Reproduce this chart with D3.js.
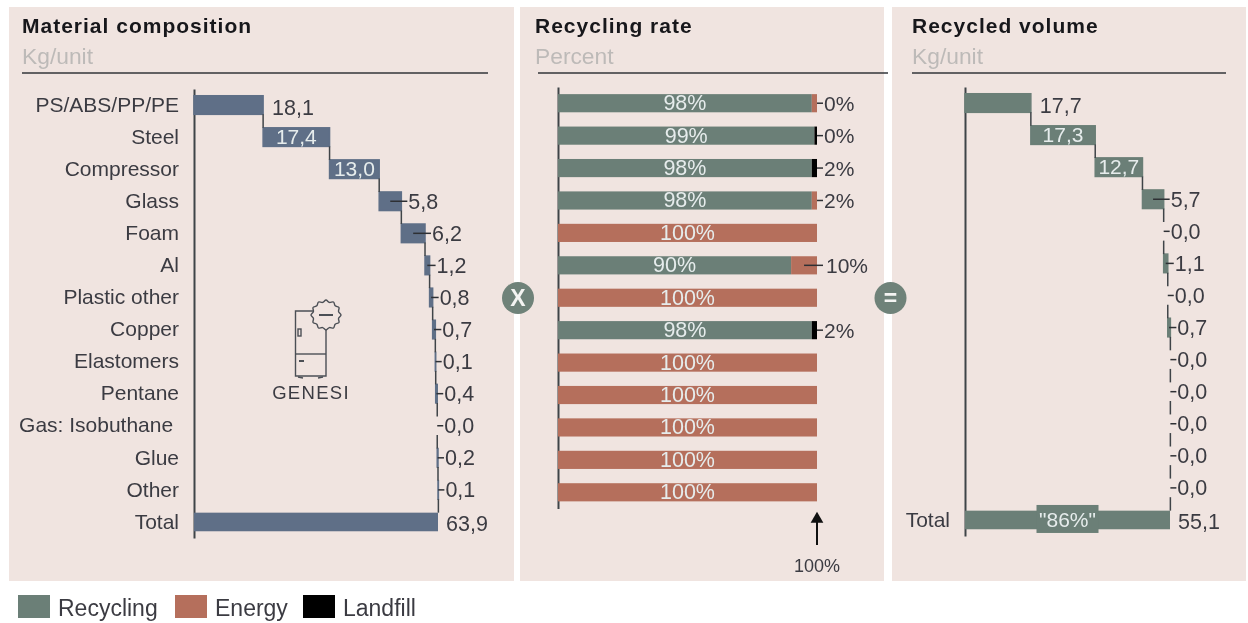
<!DOCTYPE html>
<html>
<head>
<meta charset="utf-8">
<script src="https://cdn.jsdelivr.net/npm/d3@7"></script>
<style>
html, body { margin: 0; padding: 0; background: #fff; }
svg { display: block; filter: blur(0.45px); }
text { font-family: "Liberation Sans", Arial, sans-serif; fill: #3b3b42; }
.domain { stroke: #3f4448; stroke-width: 2px; }
</style>
</head>
<body>
<svg id="chart" width="1248" height="623"></svg>
<script>
// datos
var materials = ["PS/ABS/PP/PE", "Steel", "Compressor", "Glass", "Foam", "Al", "Plastic other", "Copper", "Elastomers", "Pentane", "Gas: Isobuthane\u00a0", "Glue", "Other"];
var compositionValues = [18.1, 17.4, 13.0, 5.8, 6.2, 1.2, 0.8, 0.7, 0.1, 0.4, 0.0, 0.2, 0.1];
var compositionTotal = 63.9;
var recyclingPct = [98, 99, 98, 98, 0, 90, 0, 98, 0, 0, 0, 0, 0];
var energyPct = [2, 0, 0, 2, 100, 10, 100, 0, 100, 100, 100, 100, 100];
var landfillPct = [0, 1, 2, 0, 0, 0, 0, 2, 0, 0, 0, 0, 0];
var sideLabels = ["0%", "0%", "2%", "2%", "", "10%", "", "2%", "", "", "", "", ""];
var recycledValues = [17.7, 17.3, 12.7, 5.7, 0.0, 1.1, 0.0, 0.7, 0.0, 0.0, 0.0, 0.0, 0.0];
var recycledTotal = 55.1;
var recycledShare = "\"86%\"";
var legendNames = ["Recycling", "Energy", "Landfill"];

var colors = { recycling: "#6b7f77", energy: "#b56f5c", landfill: "#000000", material: "#5f6f87", panel: "#f0e4e0" };
var coma = d3.formatLocale({ decimal: ",", thousands: ".", grouping: [3], currency: ["", ""] }).format(".1f");

var svg = d3.select("#chart");

// fondos y cabeceras
var panels = [
	{ x: 9, w: 505, title: "Material composition", sub: "Kg/unit", tx: 22, rx1: 22, rx2: 488 },
	{ x: 520, w: 364, title: "Recycling rate", sub: "Percent", tx: 535, rx1: 538, rx2: 888 },
	{ x: 892, w: 354, title: "Recycled volume", sub: "Kg/unit", tx: 912, rx1: 912, rx2: 1226 }
];

panels.forEach(function(p) {
	svg.append("rect").attr("x", p.x).attr("y", 7).attr("width", p.w).attr("height", 574).attr("fill", colors.panel);
});
panels.forEach(function(p) {
	svg.append("text").attr("x", p.tx).attr("y", 33).attr("font-size", 21).attr("font-weight", "bold")
		.attr("letter-spacing", 1).style("fill", "#17171b").text(p.title);
	svg.append("text").attr("x", p.tx).attr("y", 64).attr("font-size", 22.8).style("fill", "#bdbab8").text(p.sub);
	svg.append("line").attr("x1", p.rx1).attr("x2", p.rx2).attr("y1", 73).attr("y2", 73).attr("stroke", "#33363a").attr("stroke-width", 1.6);
});

function waterfall(cfg) {
	var names = d3.range(cfg.values.length).concat(["total"]);
	var y = d3.scaleBand().domain(names).range(cfg.yRange).paddingInner(0.42).paddingOuter(0.21);
	var x = d3.scaleLinear().domain([0, cfg.total]).range(cfg.xRange);
	var g = svg.append("g");
	var axis = d3.axisLeft(y).tickSize(0).tickPadding(15).tickFormat(function(d) {
		if (d == "total") return "Total";
		return cfg.names ? cfg.names[d] : "";
	});

	g.append("g").attr("transform", "translate(" + cfg.xRange[0] + ",0)").call(axis)
		.selectAll("text").attr("font-size", 21);

	var cum = 0;
	var rows = cfg.values.map(function(v, i) {
		var r = { i: i, v: v, from: cum, to: cum + v };
		cum += v;
		return r;
	});

	g.selectAll(".bar").data(rows).enter().append("rect")
		.attr("x", function(d) { return x(d.from); })
		.attr("y", function(d) { return y(d.i); })
		.attr("width", function(d) { return x(d.to) - x(d.from); })
		.attr("height", y.bandwidth())
		.attr("fill", cfg.color)
		.attr("stroke", cfg.color)
		.attr("stroke-width", 1.5);

	// conectores entre barras
	g.selectAll(".conn").data(rows).enter().append("line")
		.attr("x1", function(d) { return x(d.to); })
		.attr("x2", function(d) { return x(d.to); })
		.attr("y1", function(d) { return y(d.i) + y.bandwidth(); })
		.attr("y2", function(d) { return d.i < rows.length - 1 ? y(d.i + 1) : y("total"); })
		.attr("stroke", "#3f4448").attr("stroke-width", 1.5);

	g.append("rect").attr("x", x(0)).attr("y", y("total"))
		.attr("width", x(cfg.total) - x(0)).attr("height", y.bandwidth()).attr("fill", cfg.color);

	rows.forEach(function(d) {
		var cy = y(d.i) + y.bandwidth() / 2;
		var mid = (x(d.from) + x(d.to)) / 2;
		if (d.i > 0 && d.v >= 12) {
			// etiqueta dentro de la barra
			g.append("text").attr("x", mid).attr("y", cy + 7).attr("text-anchor", "middle").attr("font-size", 21)
				.style("fill", "#e6ecec").text(coma(d.v));
		} else if (d.i == 0) {
			g.append("text").attr("x", x(d.to) + 9).attr("y", cy + 9.5).attr("font-size", 21.5).text(coma(d.v));
		} else {
			var lx = x(d.to) + 6;
			g.append("line").attr("x1", mid).attr("x2", lx).attr("y1", cy).attr("y2", cy).attr("stroke", "#2e3034").attr("stroke-width", 1.5);
			g.append("text").attr("x", lx + 1).attr("y", cy + 7.5).attr("font-size", 21.5).text(coma(d.v));
		}
	});

	var ty = y("total") + y.bandwidth() / 2;
	g.append("text").attr("x", x(cfg.total) + 8).attr("y", ty + 9).attr("font-size", 21.5).text(coma(cfg.total));

	if (cfg.share) {
		var cx = (x(0) + x(cfg.total)) / 2;
		g.append("rect").attr("x", cx - 31).attr("y", ty - 15).attr("width", 62).attr("height", 28).attr("fill", cfg.color);
		g.append("text").attr("x", cx).attr("y", ty + 7.5).attr("text-anchor", "middle").attr("font-size", 21)
			.style("fill", "#e6ecec").text(cfg.share);
	}
}

waterfall({ values: compositionValues, total: compositionTotal, names: materials, yRange: [89, 538], xRange: [194, 438], color: colors.material });
waterfall({ values: recycledValues, total: recycledTotal, share: recycledShare, yRange: [87, 536], xRange: [965, 1170], color: colors.recycling });

// panel central, barras apiladas
var rateIdx = d3.range(materials.length);
var yRate = d3.scaleBand().domain(rateIdx).range([87, 508.5]).paddingInner(0.44).paddingOuter(0.22);
var xRate = d3.scaleLinear().domain([0, 100]).range([558, 817]);
var gRate = svg.append("g");

gRate.append("g").attr("transform", "translate(558,0)")
	.call(d3.axisLeft(yRate).tickSize(0).tickFormat(""));

var stacked = d3.stack().keys(["recycling", "energy", "landfill"])(rateIdx.map(function(i) {
	return { recycling: recyclingPct[i], energy: energyPct[i], landfill: landfillPct[i] };
}));

stacked.forEach(function(layer) {
	gRate.selectAll(".s-" + layer.key).data(layer).enter().append("rect")
		.attr("x", function(d) { return xRate(d[0]); })
		.attr("y", function(d, i) { return yRate(i); })
		.attr("width", function(d) { return xRate(d[1]) - xRate(d[0]); })
		.attr("height", yRate.bandwidth())
		.attr("fill", colors[layer.key]);
});

rateIdx.forEach(function(i) {
	var cy = yRate(i) + yRate.bandwidth() / 2;
	var main = recyclingPct[i] > 0 ? recyclingPct[i] : energyPct[i];
	gRate.append("text").attr("x", xRate(main / 2)).attr("y", cy + 7).attr("text-anchor", "middle").attr("font-size", 21.5)
		.style("fill", "#e6ecec").text(main + "%");
	if (sideLabels[i] != "") {
		var rest = energyPct[i] + landfillPct[i];
		var startX = rest >= 10 ? xRate(100 - rest / 2) : xRate(100);
		gRate.append("line").attr("x1", startX).attr("x2", 823).attr("y1", cy).attr("y2", cy).attr("stroke", "#2e3034").attr("stroke-width", 1.5);
		gRate.append("text").attr("x", rest >= 10 ? 826 : 824).attr("y", cy + 7.5).attr("font-size", 21).text(sideLabels[i]);
	}
});

// flecha 100%
svg.append("line").attr("x1", xRate(100)).attr("x2", xRate(100)).attr("y1", 522).attr("y2", 545).attr("stroke", "#111").attr("stroke-width", 2);
svg.append("path").attr("transform", "translate(" + xRate(100) + ",519)")
	.attr("d", d3.symbol(d3.symbolTriangle, 70)).attr("fill", "#111");
svg.append("text").attr("x", xRate(100)).attr("y", 572).attr("text-anchor", "middle").attr("font-size", 18).text("100%");

// simbolos X y =
[{ x: 518, s: "X" }, { x: 890.5, s: "=" }].forEach(function(o) {
	svg.append("circle").attr("cx", o.x).attr("cy", 298).attr("r", 16).attr("fill", "#6f8279");
	svg.append("text").attr("x", o.x).attr("y", 306).attr("text-anchor", "middle").attr("font-size", 23).attr("font-weight", "bold")
		.style("fill", "#f4f4f2").text(o.s);
});

// icono nevera
var icon = svg.append("g").attr("fill", "none").attr("stroke", "#4b4f55").attr("stroke-width", 1.4);
icon.append("path").attr("d", "M315 311 H295.5 V376 H326 V329");
icon.append("line").attr("x1", 295.5).attr("x2", 326).attr("y1", 354).attr("y2", 354);
icon.append("line").attr("x1", 299).attr("x2", 304).attr("y1", 361).attr("y2", 361).attr("stroke-width", 2);
icon.append("rect").attr("x", 298).attr("y", 329).attr("width", 3).attr("height", 7);
icon.append("line").attr("x1", 298).attr("x2", 303).attr("y1", 377).attr("y2", 378);
icon.append("line").attr("x1", 318).attr("x2", 323).attr("y1", 378).attr("y2", 377);
var scallop = d3.lineRadial().curve(d3.curveCatmullRomClosed)
	.angle(function(d) { return d * Math.PI / 12; })
	.radius(function(d) { return d % 2 ? 13 : 15; });
icon.append("path").attr("transform", "translate(326,315)").attr("d", scallop(d3.range(24))).attr("fill", colors.panel);
icon.append("line").attr("x1", 319).attr("x2", 333).attr("y1", 315).attr("y2", 315).attr("stroke-width", 2);
svg.append("text").attr("x", 311).attr("y", 399).attr("text-anchor", "middle").attr("font-size", 18.5).attr("letter-spacing", 1.3).text("GENESI");

// leyenda
var legendX = [18, 175, 303];
var legendColors = [colors.recycling, colors.energy, colors.landfill];
legendNames.forEach(function(name, i) {
	svg.append("rect").attr("x", legendX[i]).attr("y", 595).attr("width", 32).attr("height", 23).attr("fill", legendColors[i]);
	svg.append("text").attr("x", legendX[i] + 40).attr("y", 616).attr("font-size", 23).text(name);
});
</script>
</body>
</html>
